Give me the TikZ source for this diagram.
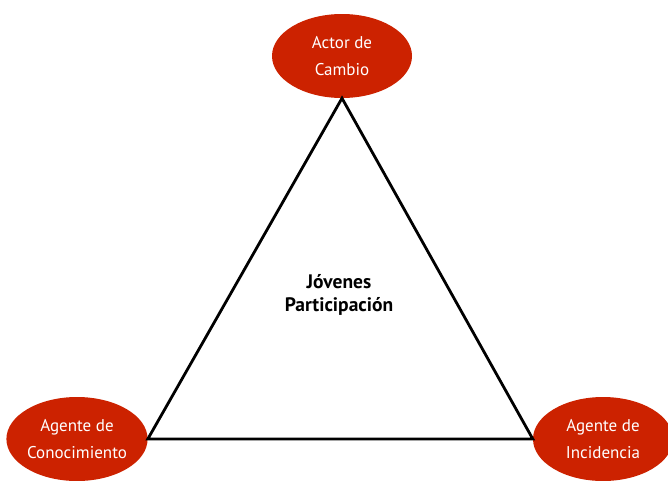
\documentclass[tikz,border=0pt]{standalone}
\usepackage{fontspec}
\setmainfont{PT Sans}
\usetikzlibrary{shapes.geometric}
\definecolor{rolered}{RGB}{204,34,0}
\tikzset{
  role/.style={ellipse, fill=rolered, text=white, minimum width=140pt, minimum height=84pt,
    inner sep=0pt, align=center, font=\fontsize{17}{27}\selectfont},
}
\begin{document}
\begin{tikzpicture}[x=1pt,y=-1pt]
      \useasboundingbox (0,0) rectangle (668,480);
      \node [role] (actor) at (342,56) {Actor de\\Cambio};
      \node [role] (conoc) at (77,439) {Agente de\\Conocimiento};
      \node [role] (incid) at (603,439) {Agente de\\Incidencia};
      \draw [line width=2.8pt, line join=miter] (actor.south) -- (conoc.east) -- (incid.west) -- cycle;
      \node [align=center, font=\bfseries\fontsize{19.5}{23}\selectfont] (jov) at (339,295) {Jóvenes\\Participación};
    \end{tikzpicture}
\end{document}
